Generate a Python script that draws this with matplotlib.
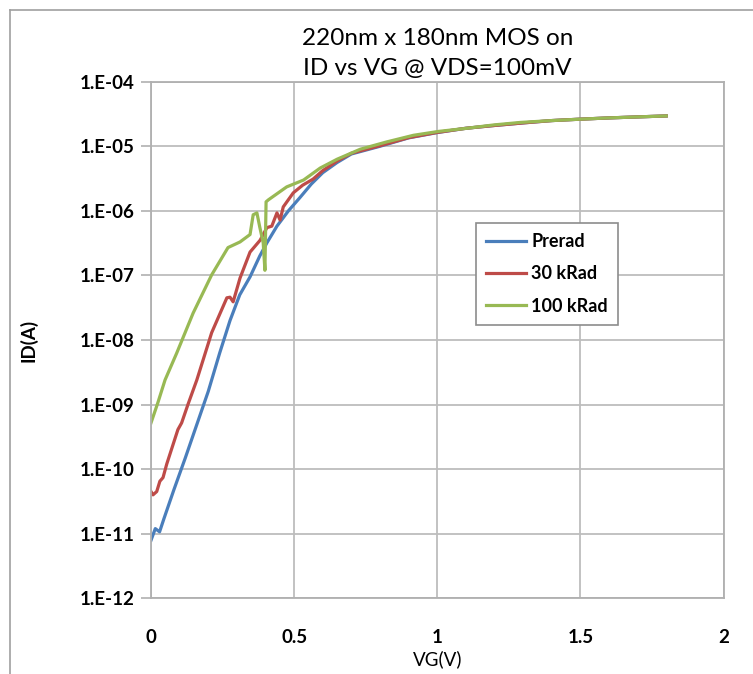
import numpy as np
from matplotlib import pyplot as plt
from matplotlib.lines import Line2D

# data (VG in volts, ID in amps)
vg_prerad = [0.0, 0.015, 0.03, 0.045, 0.08, 0.12, 0.16, 0.20, 0.24, 0.276, 0.31, 0.346,
             0.38, 0.405, 0.44, 0.48, 0.52, 0.56, 0.60, 0.65, 0.70, 0.80, 0.90, 1.0,
             1.1, 1.2, 1.3, 1.4, 1.5, 1.6, 1.7, 1.8]
id_prerad = [7.9e-12, 1.2e-11, 1.07e-11, 1.7e-11, 4.8e-11, 1.5e-10, 4.9e-10, 1.6e-09,
             6.3e-09, 2.0e-08, 5.0e-08, 9.5e-08, 2.0e-07, 3.2e-07, 5.8e-07, 1.0e-06,
             1.6e-06, 2.6e-06, 3.9e-06, 5.6e-06, 7.6e-06, 1.0e-05, 1.35e-05, 1.63e-05,
             1.9e-05, 2.1e-05, 2.3e-05, 2.5e-05, 2.63e-05, 2.75e-05, 2.85e-05, 2.95e-05]

vg_30k = [0.0, 0.007, 0.02, 0.031, 0.042, 0.055, 0.077, 0.094, 0.107, 0.129, 0.16, 0.212,
          0.265, 0.276, 0.287, 0.311, 0.346, 0.381, 0.405, 0.422, 0.44, 0.451, 0.462,
          0.497, 0.53, 0.566, 0.60, 0.65, 0.70, 0.80, 0.90, 1.0, 1.1, 1.2, 1.3, 1.4,
          1.5, 1.6, 1.7, 1.8]
id_30k = [4.5e-11, 4.0e-11, 4.5e-11, 6.5e-11, 7.4e-11, 1.2e-10, 2.4e-10, 4.1e-10,
          5.2e-10, 1.0e-09, 2.4e-09, 1.3e-08, 4.5e-08, 4.6e-08, 3.9e-08, 9.1e-08,
          2.3e-07, 3.5e-07, 5.5e-07, 5.8e-07, 9.3e-07, 7.2e-07, 1.15e-06, 1.9e-06,
          2.5e-06, 3.1e-06, 4.2e-06, 5.9e-06, 7.8e-06, 1.02e-05, 1.36e-05, 1.64e-05,
          1.9e-05, 2.1e-05, 2.3e-05, 2.5e-05, 2.63e-05, 2.75e-05, 2.85e-05, 2.95e-05]

vg_100k = [0.0, 0.024, 0.049, 0.09, 0.147, 0.212, 0.269, 0.311, 0.346, 0.357, 0.37,
           0.38, 0.392, 0.398, 0.402, 0.41, 0.474, 0.533, 0.591, 0.65, 0.731, 0.824,
           0.917, 1.005, 1.104, 1.197, 1.29, 1.4, 1.5, 1.6, 1.7, 1.8]
id_100k = [5.2e-10, 1.07e-09, 2.4e-09, 6.3e-09, 2.6e-08, 1.02e-07, 2.7e-07, 3.3e-07,
           4.3e-07, 8.7e-07, 9.3e-07, 5.6e-07, 3.2e-07, 1.2e-07, 1.38e-06, 1.48e-06,
           2.35e-06, 3.0e-06, 4.6e-06, 6.3e-06, 9.0e-06, 1.17e-05, 1.48e-05, 1.7e-05,
           1.9e-05, 2.14e-05, 2.34e-05, 2.5e-05, 2.63e-05, 2.75e-05, 2.85e-05, 2.95e-05]

series = [("Preradiation", vg_prerad, id_prerad, "#4a7ebb"),
          ("30 kRad", vg_30k, id_30k, "#be4b48"),
          ("100 kRad", vg_100k, id_100k, "#98b954")]
legend_names = ["Prerad", "30 kRad", "100 kRad"]

plt.rcParams['font.family'] = ['Lato', 'DejaVu Sans']

fig = plt.figure(figsize=(7.53, 6.74), dpi=100)
ax = fig.add_axes([151 / 753, 1 - 598.3 / 674, (723.5 - 151) / 753, (598.3 - 81.7) / 674])

for (name, vg, idv, col), lab in zip(series, legend_names):
    ax.plot(vg, idv, color=col, lw=2.3, label=lab, solid_joinstyle='round')

ax.set_yscale('log')
ax.set_xlim(0, 2)
ax.set_ylim(1e-12, 1e-4)
ax.set_xticks([0, 0.5, 1, 1.5, 2])
ax.set_xticklabels(['0', '0.5', '1', '1.5', '2'], fontweight='bold', fontsize=13.5)
yt = [10.0 ** k for k in range(-12, -3)]
ax.set_yticks(yt)
ax.set_yticklabels(['1.E-%02d' % -k for k in range(-12, -3)], fontweight='bold', fontsize=13.5)
ax.yaxis.set_minor_locator(plt.NullLocator())
ax.tick_params(axis='x', length=0, pad=22, colors='#000000')
ax.tick_params(axis='y', length=7, width=1.2, color='#b0b0b0', pad=5)

ax.grid(True, color='#bdbdbd', lw=1.3)
for s in ax.spines.values():
    s.set_color('#b0b0b0')
    s.set_linewidth(1.3)

ax.set_xlabel('VG(V)', fontsize=13.5, labelpad=3)
ax.set_ylabel('ID(A)', fontsize=13.5, fontweight='bold', labelpad=30)
ax.set_title('220nm x 180nm MOS on\nID vs VG @ VDS=100mV', fontsize=17.5, linespacing=1.5, pad=5)

leg = ax.legend(loc='upper left', bbox_to_anchor=((476 - 151) / 572.5, (598.3 - 223) / 516.6),
                borderaxespad=0, fancybox=False, edgecolor='#8c8c8c', framealpha=1,
                handlelength=2.2, handletextpad=0.3, borderpad=0.55, labelspacing=0.85,
                prop={'weight': 'bold', 'size': 13})
leg.get_frame().set_linewidth(1.2)

# outer frame of the chart area
fig.add_artist(Line2D([10 / 753, 10 / 753], [0, 1 - 10 / 674], transform=fig.transFigure,
                      color='#a0a0a0', lw=1.2))
fig.add_artist(Line2D([10 / 753, 1], [1 - 10 / 674, 1 - 10 / 674], transform=fig.transFigure,
                      color='#a0a0a0', lw=1.2))

fig.savefig('out.png', dpi=100)
